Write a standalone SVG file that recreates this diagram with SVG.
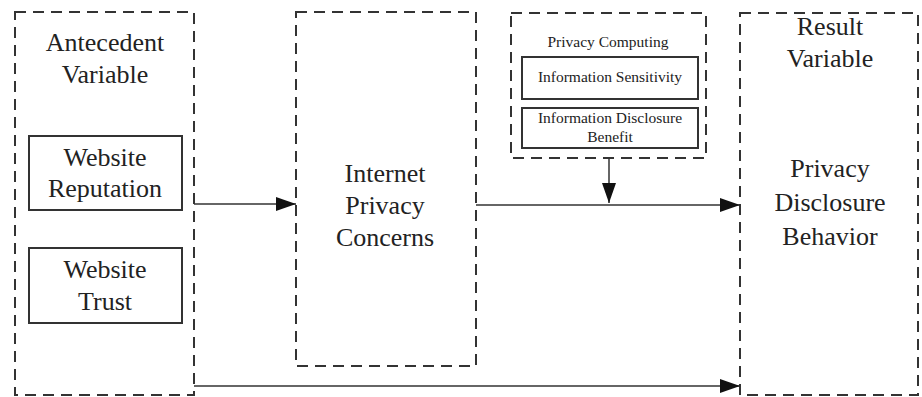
<svg xmlns="http://www.w3.org/2000/svg" width="922" height="397" viewBox="0 0 922 397">
  <defs>
    <marker id="arrow" viewBox="0 0 20 14" refX="20" refY="7" markerWidth="20" markerHeight="14" markerUnits="userSpaceOnUse" orient="auto">
      <path d="M0,0 L20,7 L0,14 Z" fill="#111"/>
    </marker>
  </defs>
  <style>
    .group { fill: none; stroke: #333; stroke-width: 2; stroke-dasharray: 11 7; }
    .item { fill: none; stroke: #333; stroke-width: 2; }
    .link { fill: none; stroke: #333; stroke-width: 1.5; marker-end: url(#arrow); }
    text { fill: #222; text-anchor: middle; }
    .big { font-size: 26px; }
    .small { font-size: 15.5px; }
  </style>
  <rect width="922" height="397" fill="#fff"/>

  <g font-family="'Liberation Serif', 'DejaVu Serif', serif">
  <g id="antecedent">
    <rect class="group" x="15" y="12" width="179" height="383"/>
    <text class="big" x="105" y="51">Antecedent</text>
    <text class="big" x="105" y="83">Variable</text>
  </g>

  <g id="website-reputation">
    <rect class="item" x="29" y="136" width="153" height="74"/>
    <text class="big" x="105" y="166">Website</text>
    <text class="big" x="105" y="197">Reputation</text>
  </g>

  <g id="website-trust">
    <rect class="item" x="29" y="248" width="153" height="75"/>
    <text class="big" x="105" y="278">Website</text>
    <text class="big" x="105" y="310">Trust</text>
  </g>

  <g id="privacy-concerns">
    <rect class="group" x="296" y="12" width="180" height="354"/>
    <text class="big" x="385" y="182">Internet</text>
    <text class="big" x="385" y="214">Privacy</text>
    <text class="big" x="385" y="246">Concerns</text>
  </g>

  <g id="privacy-computing">
    <rect class="group" x="511" y="13" width="195" height="145"/>
    <text class="small" x="608" y="47">Privacy Computing</text>
  </g>

  <g id="information-sensitivity">
    <rect class="item" x="522" y="57" width="176" height="42"/>
    <text class="small" x="610" y="82">Information Sensitivity</text>
  </g>

  <g id="disclosure-benefit">
    <rect class="item" x="522" y="108" width="176" height="40"/>
    <text class="small" x="610" y="123">Information Disclosure</text>
    <text class="small" x="610" y="142">Benefit</text>
  </g>

  <g id="result">
    <rect class="group" x="740" y="13" width="178" height="382"/>
    <text class="big" x="830" y="35">Result</text>
    <text class="big" x="830" y="67">Variable</text>
    <text class="big" x="830" y="177">Privacy</text>
    <text class="big" x="830" y="211">Disclosure</text>
    <text class="big" x="830" y="245">Behavior</text>
  </g>
  </g>

  <g id="connectors">
    <line class="link" x1="194" y1="204" x2="296" y2="204"/>
    <line class="link" x1="476" y1="205" x2="740" y2="205"/>
    <line class="link" x1="609" y1="158" x2="609" y2="203"/>
    <line class="link" x1="194" y1="386" x2="740" y2="386"/>
  </g>
</svg>
